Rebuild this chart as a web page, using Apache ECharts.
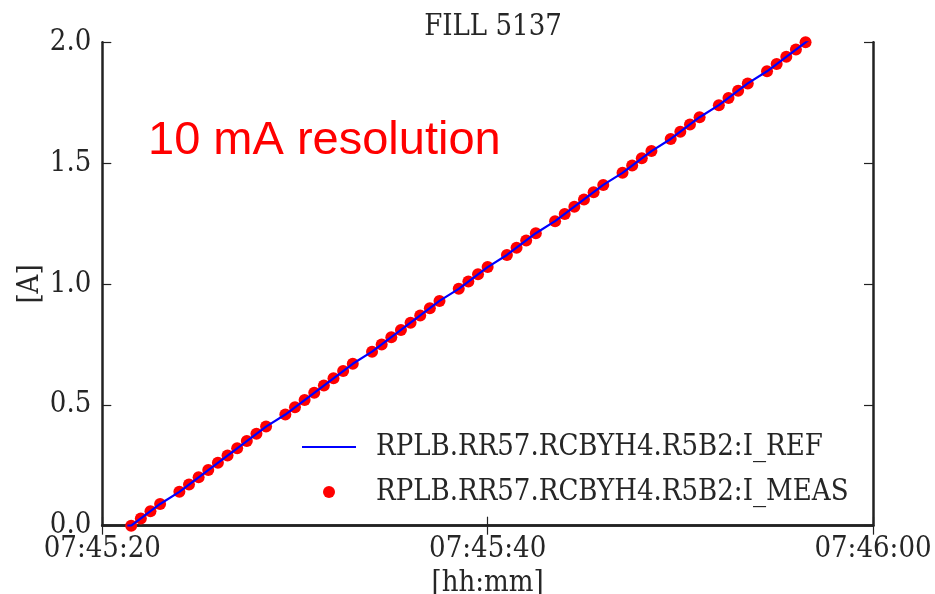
<!DOCTYPE html>
<html>
<head>
<meta charset="utf-8">
<script src="https://cdn.jsdelivr.net/npm/echarts@6/dist/echarts.min.js"></script>
<style>html,body{margin:0;padding:0;background:#fff;}#c{width:935px;height:594px;}</style>
</head>
<body>
<div id="c"></div>
<script>
// seconds after 07:45:00
const measTimes = [21.5,22.0,22.5,23.0,24.0,24.5,25.0,25.5,26.0,26.5,27.0,27.5,28.0,28.5,29.5,30.0,30.5,31.0,31.5,32.0,32.5,33.0,34.0,34.5,35.0,35.5,36.0,36.5,37.0,37.5,38.5,39.0,39.5,40.0,41.0,41.5,42.0,42.5,43.5,44.0,44.5,45.0,45.5,46.0,47.0,47.5,48.0,48.5,49.5,50.0,50.5,51.0,52.0,52.5,53.0,53.5,54.5,55.0,55.5,56.0,56.5];
const measValues = [0.00,0.03,0.06,0.09,0.14,0.17,0.20,0.23,0.26,0.29,0.32,0.35,0.38,0.41,0.46,0.49,0.52,0.55,0.58,0.61,0.64,0.67,0.72,0.75,0.78,0.81,0.84,0.87,0.90,0.93,0.98,1.01,1.04,1.07,1.12,1.15,1.18,1.21,1.26,1.29,1.32,1.35,1.38,1.41,1.46,1.49,1.52,1.55,1.60,1.63,1.66,1.69,1.74,1.77,1.80,1.83,1.88,1.91,1.94,1.97,2.00];
const refTimes = [21.3,21.5,22.0,22.5,23.0,24.0,24.5,25.0,25.5,26.0,26.5,27.0,27.5,28.0,28.5,29.5,30.0,30.5,31.0,31.5,32.0,32.5,33.0,34.0,34.5,35.0,35.5,36.0,36.5,37.0,37.5,38.5,39.0,39.5,40.0,41.0,41.5,42.0,42.5,43.5,44.0,44.5,45.0,45.5,46.0,47.0,47.5,48.0,48.5,49.5,50.0,50.5,51.0,52.0,52.5,53.0,53.5,54.5,55.0,55.5,56.0,56.5,57.0];
const refValues = [0.00,0.00,0.03,0.06,0.09,0.14,0.17,0.20,0.23,0.26,0.29,0.32,0.35,0.38,0.41,0.46,0.49,0.52,0.55,0.58,0.61,0.64,0.67,0.72,0.75,0.78,0.81,0.84,0.87,0.90,0.93,0.98,1.01,1.04,1.07,1.12,1.15,1.18,1.21,1.26,1.29,1.32,1.35,1.38,1.41,1.46,1.49,1.52,1.55,1.60,1.63,1.66,1.69,1.74,1.77,1.80,1.83,1.88,1.91,1.94,1.97,2.00,2.03];
const xTickLabels = ['07:45:20','07:45:40','07:46:00'];
const seriesNames = ['RPLB.RR57.RCBYH4.R5B2:I_REF','RPLB.RR57.RCBYH4.R5B2:I_MEAS'];
const titleText = 'FILL 5137';
const noteText = '10 mA resolution';

const serif = "'DejaVu Serif Condensed', 'DejaVu Serif', serif";
const txt = '#262626';
const fs = 29;
const spine = {show:true, lineStyle:{color:'#222', width:2.5}};
const tick = {show:true, inside:true, length:9, lineStyle:{color:'#222', width:1.2}};

const chart = echarts.init(document.getElementById('c'), null, {renderer:'canvas'});
chart.setOption({
  animation:false,
  backgroundColor:'#fff',
  title:[
    {text:titleText, left:488, top:8, textAlign:'center', textStyle:{fontFamily:serif, fontWeight:'normal', fontSize:fs, color:txt}},
    {text:noteText, left:143, top:113, textStyle:{fontFamily:"'Liberation Sans', Arial, sans-serif", fontWeight:'normal', fontSize:47, color:'#ff0000'}}
  ],
  grid:{left:102.3, right:62, top:42.3, bottom:68.3, containLabel:false, outerBoundsMode:'none'},
  legend:{
    orient:'vertical', left:297, top:427, itemWidth:54, itemHeight:12, itemGap:15,
    textStyle:{fontFamily:serif, fontSize:fs, lineHeight:30, color:txt, padding:[0,0,0,15]},
    data:[{name:seriesNames[0], icon:'path://M0,5 L54,5 L54,7 L0,7 Z'}, {name:seriesNames[1], icon:'circle'}]
  },
  xAxis:[
    {type:'value', min:20, max:60, interval:20, position:'bottom',
     name:'[hh:mm]', nameLocation:'middle', nameGap:40, nameTextStyle:{fontFamily:serif, fontSize:fs, color:txt},
     axisLine:spine, axisTick:tick, splitLine:{show:false},
     axisLabel:{fontFamily:serif, fontSize:fs, color:txt, margin:9, formatter:v=>xTickLabels[Math.round((v-20)/20)]}},
    {type:'value', min:20, max:60, interval:20, position:'top',
     axisLine:spine, axisTick:tick, axisLabel:{show:false}, splitLine:{show:false}}
  ],
  yAxis:[
    {type:'value', min:0, max:2, interval:0.5, position:'left',
     name:'[A]', nameLocation:'middle', nameGap:57, nameRotate:90, nameMoveOverlap:false,
     nameTextStyle:{fontFamily:serif, fontSize:fs, color:txt},
     axisLine:spine, axisTick:tick, splitLine:{show:false},
     axisLabel:{fontFamily:serif, fontSize:fs, color:txt, margin:11, formatter:v=>v.toFixed(1)}},
    {type:'value', min:0, max:2, interval:0.5, position:'right',
     axisLine:spine, axisTick:tick, axisLabel:{show:false}, splitLine:{show:false}}
  ],
  series:[
    {name:seriesNames[0], type:'line', symbol:'none', clip:true,
     lineStyle:{color:'#0000ff', width:2.2}, itemStyle:{color:'#0000ff'},
     data:refTimes.map((t,i)=>[t, refValues[i]])},
    {name:seriesNames[1], type:'scatter', symbol:'circle', symbolSize:12, clip:false,
     itemStyle:{color:'#ff0000', opacity:1},
     data:measTimes.map((t,i)=>[t, measValues[i]])}
  ]
});
</script>
</body>
</html>
